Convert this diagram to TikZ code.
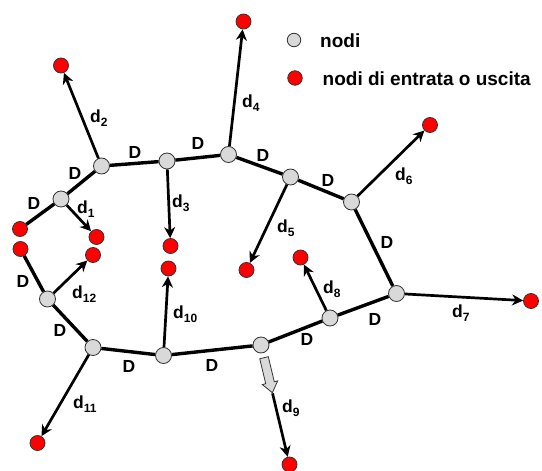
\documentclass[tikz,border=0pt]{standalone}
\usepackage{fontspec}
\setmainfont{Liberation Sans}
\usetikzlibrary{arrows.meta,
    calc,
    shapes.arrows}

% pedice delle etichette dei flussi
\newcommand{\dlab}[1]{d\raisebox{-4.5pt}{\fontsize{12}{12}\selectfont #1}}

\tikzset{
  nodo/.style={circle,draw=black!80,fill=black!15,line width=0.8pt,minimum size=16pt,inner sep=0pt},
  io/.style={circle,draw=black!80,fill=red,line width=0.8pt,minimum size=15pt,inner sep=0pt},
  ramo/.style={line width=3.4pt},
  flusso/.style={line width=2.7pt,-{Stealth[length=11pt,width=11pt,inset=3.5pt]}},
  lab/.style={font=\fontsize{17.5}{20}\selectfont\bfseries,inner sep=0pt},
  leg/.style={font=\fontsize{19}{22}\selectfont\bfseries,inner sep=0pt,anchor=base west},
}

\begin{document}
\begin{tikzpicture}[x=1pt,y=-1pt]
\useasboundingbox (0,0) rectangle (542,471);

% nodi della rete
\node[nodo] (M) at (61,199) {};
\node[nodo] (A) at (101.5,166) {};
\node[nodo] (B) at (167,161) {};
\node[nodo] (C) at (228.5,154.5) {};
\node[nodo] (E) at (290.5,177) {};
\node[nodo] (F) at (351.5,202) {};
\node[nodo] (G) at (396.5,293.5) {};
\node[nodo] (H) at (330,318) {};
\node[nodo] (I) at (261,345) {};
\node[nodo] (J) at (163.5,355.5) {};
\node[nodo] (K) at (93,347.5) {};
\node[nodo] (L) at (47.5,299) {};

% nodi di entrata o uscita
\node[io] (e1) at (20,229) {};
\node[io] (e2) at (20.5,249) {};
\node[io] (u1) at (96.5,237) {};
\node[io] (u2) at (61,65.5) {};
\node[io] (u3) at (170.5,246) {};
\node[io] (u4) at (243.5,21.5) {};
\node[io] (u5) at (246.5,270) {};
\node[io] (u6) at (430,125) {};
\node[io] (u7) at (531,301) {};
\node[io] (u8) at (300.5,257.5) {};
\node[io] (u9) at (289.5,464.5) {};
\node[io] (u10) at (168.5,268.5) {};
\node[io] (u11) at (37.5,443) {};
\node[io] (u12) at (93,255) {};

% rami
\draw[ramo] (e1) -- (M) -- (A) -- (B) -- (C) -- (E) -- (F) -- (G) -- (H) -- (I) -- (J) -- (K) -- (L) -- (e2);

% flussi
\draw[flusso] (M) -- (u1);
\draw[flusso] (A) -- (u2);
\draw[flusso] (B) -- (u3);
\draw[flusso] (C) -- (u4);
\draw[flusso] (E) -- (u5);
\draw[flusso] (F) -- (u6);
\draw[flusso] (G) -- (u7);
\draw[flusso] (H) -- (u8);
\draw[flusso] (J) -- (u10);
\draw[flusso] (K) -- (u11);
\draw[flusso] (L) -- (u12);
\path (I) -- node[pos=0.04,sloped,anchor=tail,single arrow,draw=black!80,fill=black!15,line width=0.8pt,
    inner xsep=0pt,inner ysep=4pt,minimum height=36pt,single arrow head extend=3.5pt,
    single arrow tip angle=75] (g9) {} (u9);
\draw[flusso] (g9.tip) -- (u9);

% etichette dei rami
\foreach \p [count=\i] in {(34,203),(75,173),(135,152),(198,143),(263,155),(328,180),
    (387,242),(375,319),(307,339),(212,365),(129,366),(60,330),(23,281)}
  \node[lab] (D\i) at \p {D};

% etichette dei flussi
\foreach \x/\y/\n in {77/213/1,90/122/2,172/207/3,242/107/4,277/232/5,395/180/6,
    452/317/7,323/293/8,282/412/9,173/318/10,73/408/11,72/298/12}
  \node[lab,anchor=base west] (d\n) at (\x,\y) {\dlab{\n}};

% legenda
\node[nodo,minimum size=13.5pt] (leg1) at (294,40) {};
\node[io,minimum size=14.5pt] (leg2) at (295,78) {};
\node[leg] (t1) at (320,47) {nodi};
\node[leg] (t2) at (322.5,85) {nodi di entrata o uscita};
\end{tikzpicture}
\end{document}
